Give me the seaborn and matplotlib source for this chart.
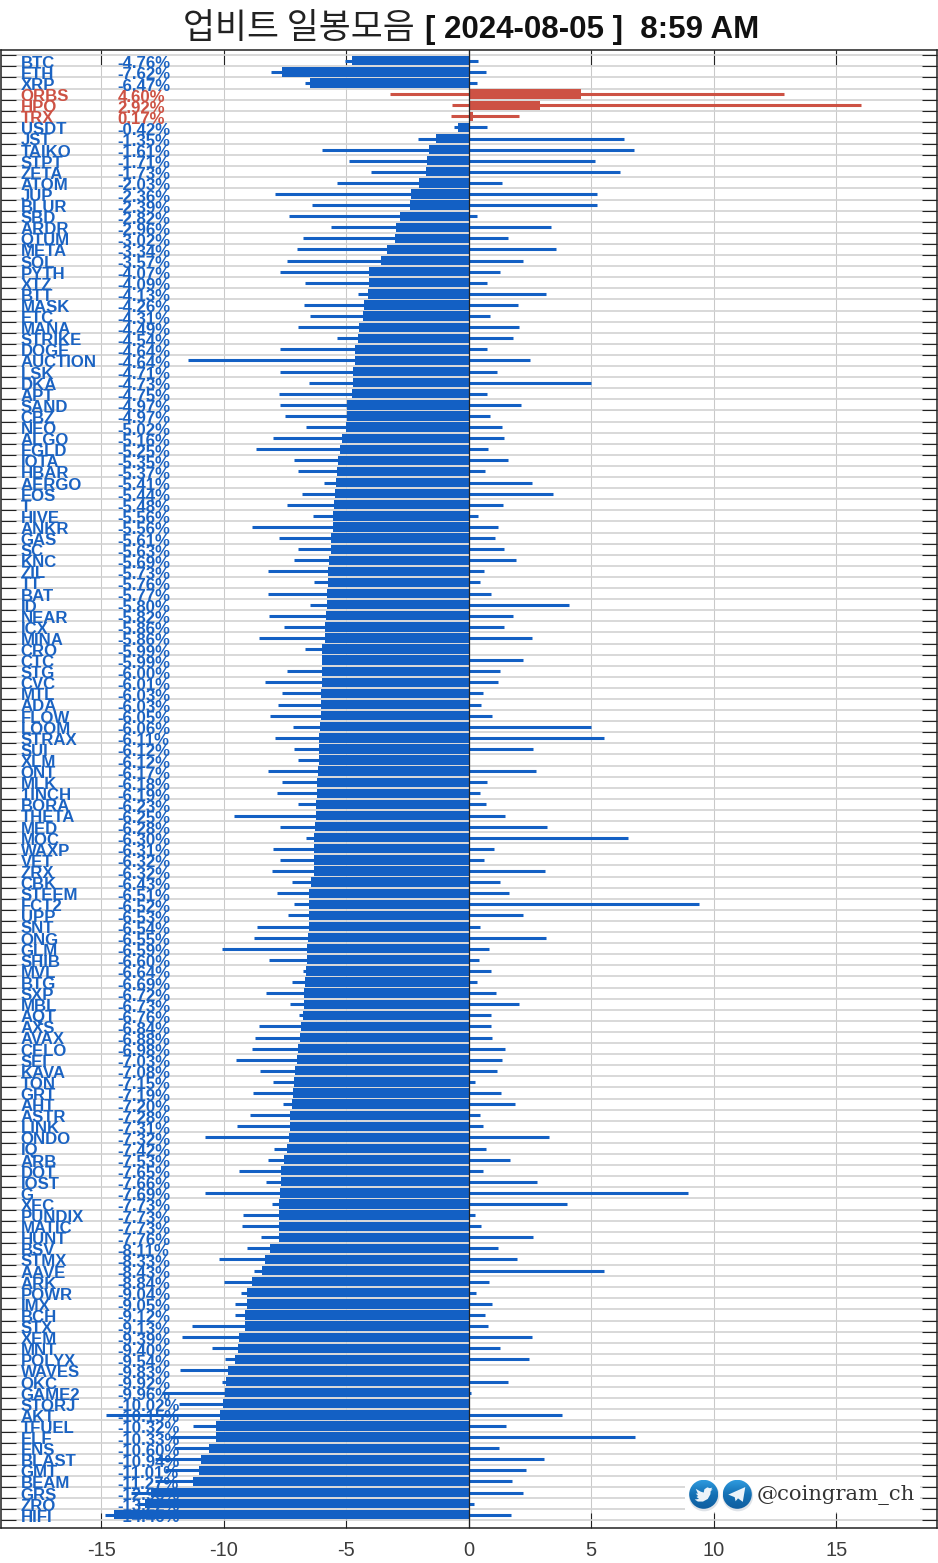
import numpy as np
import pandas as pd
import matplotlib
matplotlib.use("Agg")
import matplotlib.pyplot as plt
from matplotlib.patches import Circle, Polygon, Rectangle
import seaborn as sns

names = ["BTC","ETH","XRP","ORBS","HPO","TRX","USDT","JST","TAIKO","STPT","ZETA","ATOM","JUP","BLUR","SBD","ARDR","QTUM","META","SOL","PYTH","XTZ","BTT","MASK","ETC","MANA","STRIKE","DOGE","AUCTION","LSK","DKA","APT","SAND","CBZ",
 "NEO","ALGO","EGLD","IOTA","HBAR","AERGO","EOS","T","HIVE","ANKR","GAS","SC","KNC","ZIL","TT","BAT","ID","NEAR","ICX","MINA","CRO","CTC","STG","CVC","MTL","ADA","FLOW","LOOM","STRAX","SUI","XLM","ONT","MLK",
 "1INCH","BORA","THETA","MED","MOC","WAXP","VET","ZRX","CBK","STEEM","FCT2","UPP","SNT","ONG","GLM","SHIB","MVL","BTG","SXP","MBL","AQT","AXS","AVAX","CELO","SEI","KAVA","TON","GRT","AHT","ASTR","LINK","ONDO","IQ",
 "ARB","DOT","IOST","G","XEC","PUNDIX","MATIC","HUNT","BSV","STMX","AAVE","ARK","POWR","IMX","BCH","STX","XEM","MNT","POLYX","WAVES","OKC","GAME2","STORJ","AKT","TFUEL","ELF","ENS","BLAST","GMT","BEAM","GRS","ZRO","HIFI"]
changes = [-4.76,-7.62,-6.47,4.60,2.92,0.17,-0.42,-1.35,-1.61,-1.71,-1.73,-2.03,-2.36,-2.39,-2.82,-2.96,-3.02,-3.34,-3.57,-4.07,-4.09,-4.13,-4.26,-4.31,-4.49,-4.54,-4.64,-4.64,-4.71,-4.73,-4.75,-4.97,-4.97,
 -5.02,-5.16,-5.25,-5.35,-5.37,-5.41,-5.44,-5.48,-5.56,-5.56,-5.61,-5.63,-5.69,-5.73,-5.76,-5.77,-5.80,-5.82,-5.86,-5.86,-5.99,-5.99,-6.00,-6.01,-6.03,-6.03,-6.05,-6.06,-6.11,-6.12,-6.12,-6.17,-6.18,
 -6.19,-6.23,-6.25,-6.28,-6.30,-6.31,-6.32,-6.32,-6.43,-6.51,-6.52,-6.53,-6.54,-6.55,-6.59,-6.60,-6.64,-6.69,-6.72,-6.73,-6.76,-6.84,-6.88,-6.98,-7.03,-7.08,-7.15,-7.19,-7.20,-7.28,-7.31,-7.32,-7.42,
 -7.53,-7.65,-7.66,-7.69,-7.73,-7.73,-7.73,-7.76,-8.11,-8.33,-8.43,-8.84,-9.04,-9.05,-9.12,-9.13,-9.39,-9.40,-9.54,-9.83,-9.92,-9.96,-10.02,-10.15,-10.32,-10.33,-10.60,-10.94,-11.01,-11.27,-12.96,-13.22,-14.46]
lows = [-5.04,-8.06,-6.67,-3.22,-0.67,-0.71,-0.59,-2.08,-5.98,-4.90,-4.00,-5.37,-7.90,-6.39,-7.33,-5.61,-6.76,-7.00,-7.41,-7.69,-6.67,-4.53,-6.71,-6.47,-6.96,-5.37,-7.69,-11.47,-7.69,-6.51,-7.73,-7.69,-7.49,
 -6.63,-7.98,-8.67,-7.12,-6.96,-5.90,-6.80,-7.41,-6.35,-8.84,-7.73,-6.96,-7.12,-8.18,-6.31,-8.18,-6.47,-8.14,-7.53,-8.55,-6.67,-5.99,-7.41,-8.31,-7.61,-7.78,-8.10,-7.16,-7.90,-7.12,-6.96,-8.18,-7.61,
 -7.82,-6.96,-9.59,-7.69,-6.63,-7.98,-7.69,-8.02,-7.20,-7.82,-7.12,-7.37,-8.63,-8.76,-10.08,-8.14,-6.76,-7.20,-8.27,-7.29,-6.94,-8.55,-8.71,-8.84,-9.51,-8.51,-7.98,-8.80,-7.57,-8.92,-9.47,-10.78,-7.94,
 -8.18,-9.39,-8.27,-10.78,-8.02,-9.22,-9.27,-8.47,-9.04,-10.20,-8.76,-10.00,-9.31,-9.55,-9.55,-11.31,-11.71,-10.49,-9.96,-11.80,-10.06,-12.51,-11.84,-14.80,-11.27,-12.20,-12.04,-12.82,-12.41,-12.80,-13.80,-13.50,-14.85]
highs = [0.39,0.71,0.35,12.86,16.02,2.06,0.76,6.33,6.73,5.14,6.16,1.37,5.22,5.22,0.35,3.35,1.61,3.55,2.22,1.29,0.76,3.14,2.02,0.88,2.06,1.82,0.76,2.51,1.16,4.98,0.76,2.14,0.88,
 1.37,1.45,0.80,1.61,0.67,2.59,3.43,1.41,0.39,1.20,1.08,1.45,1.94,0.63,0.47,0.92,4.08,1.82,1.45,2.59,0.0,2.22,1.29,1.20,0.59,0.51,0.96,4.98,5.51,2.63,0.0,2.76,0.76,
 0.47,0.71,1.49,3.18,6.49,1.04,0.63,3.10,1.29,1.65,9.41,2.22,0.47,3.14,0.84,0.43,0.92,0.35,1.12,2.06,0.92,0.92,0.96,1.49,1.37,1.16,0.27,1.33,1.90,0.47,0.59,3.27,0.71,
 1.69,0.59,2.80,8.96,4.00,0.27,0.51,2.63,1.20,1.98,5.51,0.84,0.31,0.96,0.67,0.80,2.59,1.29,2.47,0.0,1.61,0.10,0.0,3.80,1.53,6.78,1.24,3.06,2.35,1.78,2.22,0.22,1.73]
xtick_values = [-15, -10, -5, 0, 5, 10, 15]
title_korean = "업비트 일봉모음"
title_latin = "[ 2024-08-05 ]  8:59 AM"
handle = "@coingram_ch"

BLUE = "#1360c4"
RED = "#cd5244"
W, H = 938, 1563

sns.set_theme(style="whitegrid")
plt.rcParams["font.family"] = ["Liberation Sans", "DejaVu Sans"]

df = pd.DataFrame({"row": np.arange(len(names)), "change": changes,
                   "dir": ["up" if c > 0 else "down" for c in changes]})

fig = plt.figure(figsize=(W / 100, H / 100), dpi=100, facecolor="white")
ax = fig.add_axes([0.5 / W, 1 - 1528.3 / H, (937.3 - 0.5) / W, (1528.3 - 49.5) / H])

sns.barplot(data=df, x="change", y="row", hue="dir", orient="h", native_scale=True,
            palette={"up": RED, "down": BLUE}, dodge=False, width=0.84, saturation=1,
            errorbar=None, legend=False, ax=ax, zorder=3, linewidth=0)
ax.hlines(df["row"], lows, highs, colors=[RED if c > 0 else BLUE for c in changes],
          linewidth=2.2, zorder=3, capstyle="butt")

for i, (n, c) in enumerate(zip(names, changes)):
    col = RED if c > 0 else "#1b63c2"
    ax.annotate(n, xy=(20.5 / W, i), xycoords=("figure fraction", "data"), xytext=(0, -5.0),
                textcoords="offset points", ha="left", va="baseline", fontsize=12.1,
                fontweight="bold", color=col, zorder=1.5)
    ax.annotate(f"{c:.2f}%", xy=(117.5 / W, i), xycoords=("figure fraction", "data"), xytext=(0, -5.4),
                textcoords="offset points", ha="left", va="baseline", fontsize=12.1,
                fontweight="bold", color=col, zorder=1.5)

ax.axvline(0, color="#222222", lw=0.9, zorder=4)

ax.set_xlim(-19.11, 19.12)
ax.set_ylim(132.22, -1.02)
ax.set_xticks(xtick_values)
ax.set_xticklabels([str(v) for v in xtick_values])
ax.set_yticks(np.arange(len(names) + 1) - 0.5)
ax.set_yticklabels([])
ax.set_xlabel("")
ax.set_ylabel("")
ax.set_axisbelow(True)
ax.grid(True, axis="y", color="#d2d2d2", lw=1.2, zorder=0)
ax.grid(True, axis="x", color="#c9c9c9", lw=0.75, zorder=0)
ax.tick_params(axis="y", which="major", direction="in", left=True, right=True, length=10.5,
               width=0.8, color="#222222")
ax.tick_params(axis="x", which="major", direction="in", bottom=True, top=True, length=10.5,
               width=0.8, color="#222222", labelsize=14.4, labelcolor="#3c3c3c", pad=9.5)
for s in ax.spines.values():
    s.set_visible(True)
    s.set_color("#222222")
    s.set_linewidth(1.1)

# title
fig.text(415 / W, 1 - 38 / H, title_korean, ha="right", va="baseline", fontsize=25,
         family=["Noto Sans CJK KR"], fontweight="light", color="#222222")
fig.text(425 / W, 1 - 38 / H, title_latin, ha="left", va="baseline", fontsize=22.5,
         fontweight="bold", color="#111111")

# badge overlay in pixel coordinates
ov = fig.add_axes([0, 0, 1, 1], facecolor="none", zorder=5)
ov.set_xlim(0, W)
ov.set_ylim(H, 0)
ov.axis("off")
ov.add_patch(Rectangle((685, 1480), 235, 32, fc="white", ec="none"))

grad = np.linspace(0, 1, 64).reshape(-1, 1)
cmap = matplotlib.colors.LinearSegmentedColormap.from_list("ic", ["#2e9ade", "#1470b4", "#0f5ea0"])
bird = [(0.62,-0.34),(0.48,-0.22),(0.46,0.0),(0.28,0.32),(-0.05,0.5),(-0.4,0.5),(-0.62,0.36),(-0.32,0.32),
        (-0.5,0.18),(-0.38,0.12),(-0.55,-0.05),(-0.4,-0.05),(-0.55,-0.38),(-0.2,-0.18),(0.0,-0.12),(0.05,-0.35),
        (0.25,-0.48),(0.42,-0.42),(0.6,-0.46),(0.5,-0.33)]
plane = [(-0.62,0.02),(0.55,-0.5),(0.38,0.52),(0.05,0.28),(-0.12,0.48),(-0.18,0.2)]
for cx, shape in ((703.7, bird), (737.3, plane)):
    r = 14.5
    ov.add_patch(Circle((cx + 0.5, 1496), r + 0.8, fc="#dfe3e8", ec="none"))
    im = ov.imshow(grad, extent=(cx - r, cx + r, 1494.3 + r, 1494.3 - r), cmap=cmap, aspect="auto", zorder=2)
    im.set_clip_path(Circle((cx, 1494.3), r, transform=ov.transData))
    ov.add_patch(Polygon([(cx + x * r, 1494.3 + y * r) for x, y in shape], fc="white", ec="none",
                         alpha=0.92, zorder=3))
ov.set_xlim(0, W)
ov.set_ylim(H, 0)
ov.text(757, 1500, handle, fontsize=15.2, family=["DejaVu Serif"], color="#333333", ha="left",
        va="baseline", zorder=4)

fig.savefig("out.png", dpi=100)
